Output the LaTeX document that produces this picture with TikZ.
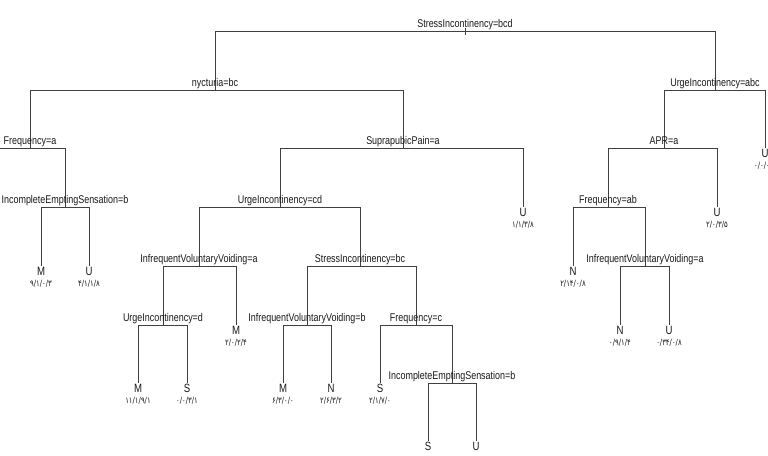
\documentclass[tikz,border=0pt]{standalone}
\usepackage{fontspec}
\newfontfamily\treefont[FakeStretch=0.8]{Liberation Sans}
\newfontfamily\numfont[FakeStretch=0.8]{DejaVu Sans}
\tikzset{
  branch/.style={draw=black!75, line width=0.5pt},
  split/.style={font=\treefont\fontsize{5.6}{6}\selectfont, text=black!90, inner sep=0pt, anchor=base, yshift=2pt},
  leafname/.style={font=\treefont\fontsize{6}{6}\selectfont, text=black!90, inner sep=0pt, anchor=north, yshift=-0.4pt},
  leafnum/.style={font=\numfont\fontsize{4.3}{5}\selectfont, text=black!90, inner sep=0pt, anchor=north, yshift=-2pt}
}
\begin{document}
\begin{tikzpicture}[x=0.5pt, y=-0.5pt]
\clip (0,0) rectangle (768,456);

% split points (junction of each horizontal bar)
\coordinate (r)   at (465,31);
\coordinate (s1)  at (215,90);
\coordinate (s2)  at (715,90);
\coordinate (s3)  at (30,148);
\coordinate (s4)  at (403,148);
\coordinate (s5)  at (65,207);
\coordinate (s6)  at (280,207);
\coordinate (s7)  at (199,266);
\coordinate (s8)  at (360,266);
\coordinate (s9)  at (163,325);
\coordinate (s10) at (307,325);
\coordinate (s11) at (416,325);
\coordinate (s12) at (452,383);
\coordinate (s13) at (664,148);
\coordinate (s14) at (608,207);
\coordinate (s15) at (645,266);

% leaf points (lower end of each leaf branch)
\coordinate (l0)  at (-12,207);
\coordinate (l1)  at (41,266);
\coordinate (l2)  at (89,266);
\coordinate (l3)  at (523,207);
\coordinate (l4)  at (236,325);
\coordinate (l5)  at (138,383);
\coordinate (l6)  at (187,383);
\coordinate (l7)  at (283,383);
\coordinate (l8)  at (331,383);
\coordinate (l9)  at (380,383);
\coordinate (l10) at (428,441);
\coordinate (l11) at (476,441);
\coordinate (l12) at (765,148);
\coordinate (l13) at (717,207);
\coordinate (l14) at (573,266);
\coordinate (l15) at (620,325);
\coordinate (l16) at (669,325);

% branches
\draw[branch] (r) ++(0,-3) -- ++(0,7);
\draw[branch] (r) -| (s1);
\draw[branch] (r) -| (s2);
\draw[branch] (s1) -| (s3);
\draw[branch] (s1) -| (s4);
\draw[branch] (s3) -| (l0);
\draw[branch] (s3) -| (s5);
\draw[branch] (s5) -| (l1);
\draw[branch] (s5) -| (l2);
\draw[branch] (s4) -| (s6);
\draw[branch] (s4) -| (l3);
\draw[branch] (s6) -| (s7);
\draw[branch] (s6) -| (s8);
\draw[branch] (s7) -| (s9);
\draw[branch] (s7) -| (l4);
\draw[branch] (s9) -| (l5);
\draw[branch] (s9) -| (l6);
\draw[branch] (s8) -| (s10);
\draw[branch] (s8) -| (s11);
\draw[branch] (s10) -| (l7);
\draw[branch] (s10) -| (l8);
\draw[branch] (s11) -| (l9);
\draw[branch] (s11) -| (s12);
\draw[branch] (s12) -| (l10);
\draw[branch] (s12) -| (l11);
\draw[branch] (s2) -| (s13);
\draw[branch] (s2) -| (l12);
\draw[branch] (s13) -| (s14);
\draw[branch] (s13) -| (l13);
\draw[branch] (s14) -| (l14);
\draw[branch] (s14) -| (s15);
\draw[branch] (s15) -| (l15);
\draw[branch] (s15) -| (l16);

% split labels
\node[split] (tr)   at (r)   {StressIncontinency=bcd};
\node[split] (ts1)  at (s1)  {nycturia=bc};
\node[split] (ts2)  at (s2)  {UrgeIncontinency=abc};
\node[split] (ts3)  at (s3)  {Frequency=a};
\node[split] (ts4)  at (s4)  {SuprapubicPain=a};
\node[split] (ts5)  at (s5)  {IncompleteEmptingSensation=b};
\node[split] (ts6)  at (s6)  {UrgeIncontinency=cd};
\node[split] (ts7)  at (s7)  {InfrequentVoluntaryVoiding=a};
\node[split] (ts8)  at (s8)  {StressIncontinency=bc};
\node[split] (ts9)  at (s9)  {UrgeIncontinency=d};
\node[split] (ts10) at (s10) {InfrequentVoluntaryVoiding=b};
\node[split] (ts11) at (s11) {Frequency=c};
\node[split] (ts12) at (s12) {IncompleteEmptingSensation=b};
\node[split] (ts13) at (s13) {APR=a};
\node[split] (ts14) at (s14) {Frequency=ab};
\node[split] (ts15) at (s15) {InfrequentVoluntaryVoiding=a};

% leaves: class and counts
\node[leafname] (c0)  at (l0)  {U};   \node[leafnum] (n0)  at (c0.south)  {۰/۰/۰/۷.};
\node[leafname] (c1)  at (l1)  {M};   \node[leafnum] (n1)  at (c1.south)  {۹/۱/۰/۳};
\node[leafname] (c2)  at (l2)  {U};   \node[leafnum] (n2)  at (c2.south)  {۴/۱/۱/۸};
\node[leafname] (c3)  at (l3)  {U};   \node[leafnum] (n3)  at (c3.south)  {۱/۱/۳/۸};
\node[leafname] (c4)  at (l4)  {M};   \node[leafnum] (n4)  at (c4.south)  {۲/۰/۲/۴};
\node[leafname] (c5)  at (l5)  {M};   \node[leafnum] (n5)  at (c5.south)  {۱۱/۱/۹/۱};
\node[leafname] (c6)  at (l6)  {S};   \node[leafnum] (n6)  at (c6.south)  {۰/۰/۳/۱};
\node[leafname] (c7)  at (l7)  {M};   \node[leafnum] (n7)  at (c7.south)  {۶/۳/۰/۰};
\node[leafname] (c8)  at (l8)  {N};   \node[leafnum] (n8)  at (c8.south)  {۲/۶/۳/۲};
\node[leafname] (c9)  at (l9)  {S};   \node[leafnum] (n9)  at (c9.south)  {۲/۱/۷/۰};
\node[leafname] (c10) at (l10) {S};
\node[leafname] (c11) at (l11) {U};
\node[leafname] (c12) at (l12) {U};   \node[leafnum] (n12) at (c12.south) {۰/۰/۰/۰};
\node[leafname] (c13) at (l13) {U};   \node[leafnum] (n13) at (c13.south) {۲/۰/۳/۵};
\node[leafname] (c14) at (l14) {N};   \node[leafnum] (n14) at (c14.south) {۲/۱۴/۰/۸};
\node[leafname] (c15) at (l15) {N};   \node[leafnum] (n15) at (c15.south) {۰/۹/۱/۴};
\node[leafname] (c16) at (l16) {U};   \node[leafnum] (n16) at (c16.south) {۰/۳۴/۰/۸};
\end{tikzpicture}
\end{document}
